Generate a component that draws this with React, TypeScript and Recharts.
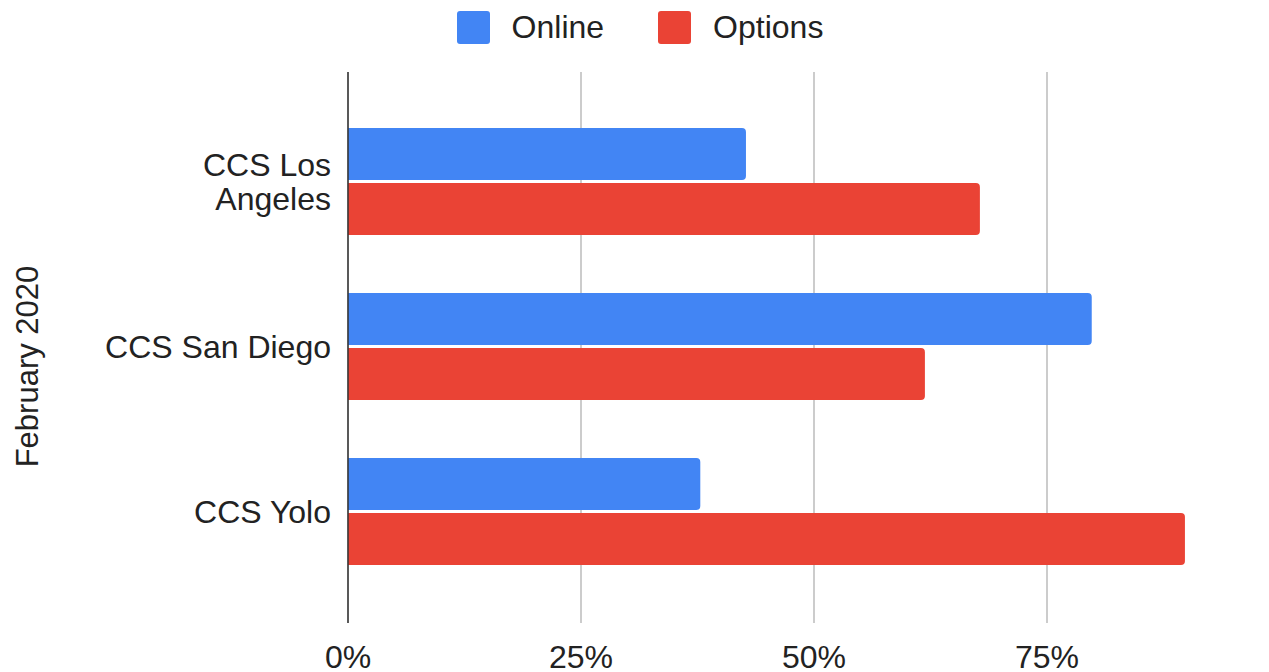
import { Bar, BarChart, CartesianGrid, Legend, XAxis, YAxis } from 'recharts';

// share of each site, February 2020
const categories = ['CCS Los Angeles', 'CCS San Diego', 'CCS Yolo'];
const online = [0.427, 0.798, 0.378];
const options = [0.678, 0.619, 0.898];
const xTicks = [0, 0.25, 0.5, 0.75];

const data = categories.map((name, i) => ({ name, online: online[i], options: options[i] }));

const FONT = '"Liberation Sans", Arial, sans-serif';
const INK = '#222';
const BLUE = '#4285F4';
const RED = '#EA4335';
const TICK_SIZE = 32;
const TICK_WRAP = 240;
const LINE_H = 33.5;

const series = [
  { key: 'online', label: 'Online', color: BLUE },
  { key: 'options', label: 'Options', color: RED },
];

let ctx: CanvasRenderingContext2D | null = null;
function measure(s: string): number {
  if (!ctx) {
    ctx = document.createElement('canvas').getContext('2d');
    if (ctx) ctx.font = `${TICK_SIZE}px ${FONT}`;
  }
  return ctx ? ctx.measureText(s).width : s.length * TICK_SIZE * 0.55;
}

function wrap(label: string): string[] {
  const lines: string[] = [];
  let cur = '';
  label.split(' ').forEach((w) => {
    const next = cur ? `${cur} ${w}` : w;
    if (cur && measure(next) > TICK_WRAP) {
      lines.push(cur);
      cur = w;
    } else {
      cur = next;
    }
  });
  if (cur) lines.push(cur);
  return lines;
}

function LegendBox(): JSX.Element {
  return (
    <div
      style={{
        height: 72,
        boxSizing: 'border-box',
        paddingTop: 11,
        display: 'flex',
        justifyContent: 'center',
        alignItems: 'flex-start',
        fontFamily: FONT,
        fontSize: 32,
        color: INK,
      }}
    >
      {series.map((s, i) => (
        <div key={s.key} style={{ display: 'flex', alignItems: 'center', height: 33, marginLeft: i ? 54 : 0 }}>
          <span style={{ width: 33, height: 33, borderRadius: 3, background: s.color, marginRight: 22 }} />
          <span style={{ lineHeight: '33px' }}>{s.label}</span>
        </div>
      ))}
    </div>
  );
}

function CategoryTick({ x, y, payload }: any): JSX.Element {
  const lines = wrap(String(payload.value));
  // first baseline so the block is centred on the band
  const first = y - ((lines.length - 1) * LINE_H) / 2 + TICK_SIZE * 0.355;
  return (
    <text x={x} y={first} textAnchor="end" fill={INK} fontSize={TICK_SIZE} fontFamily={FONT}>
      {lines.map((line, i) => (
        <tspan key={line} x={x} dy={i === 0 ? 0 : LINE_H}>
          {line}
        </tspan>
      ))}
    </text>
  );
}

function AxisTitle({ viewBox }: any): JSX.Element {
  const cx = viewBox.x + 37.5;
  const cy = viewBox.y + viewBox.height / 2 + 19;
  return (
    <text
      x={cx}
      y={cy}
      transform={`rotate(-90 ${cx} ${cy})`}
      textAnchor="middle"
      fill={INK}
      fontSize={31}
      fontFamily={FONT}
    >
      February 2020
    </text>
  );
}

export default function App(): JSX.Element {
  return (
    <div
      style={{ position: 'absolute', left: 0, top: 0, width: 1269, height: 672, overflow: 'hidden', background: '#fff' }}
    >
      <BarChart
        width={1280}
        height={672}
        data={data}
        layout="vertical"
        margin={{ top: 0, right: 0, bottom: 0, left: 0 }}
        barCategoryGap={29}
        barGap={3}
      >
        <CartesianGrid horizontal={false} stroke="#ccc" strokeWidth={2} />
        <XAxis
          type="number"
          domain={[0, 1]}
          ticks={xTicks}
          interval={0}
          tickFormatter={(v: number) => `${Math.round(v * 100)}%`}
          axisLine={false}
          tickLine={false}
          tickSize={0}
          tickMargin={22}
          height={49}
          tick={{ fill: INK, fontSize: 32, fontFamily: FONT }}
        />
        <YAxis
          type="category"
          dataKey="name"
          width={348}
          axisLine={{ stroke: '#333', strokeWidth: 1.5 }}
          tickLine={false}
          tickSize={0}
          tickMargin={17}
          tick={<CategoryTick />}
          padding={{ top: 27, bottom: 29 }}
          label={<AxisTitle />}
        />
        <Legend verticalAlign="top" content={<LegendBox />} />
        {series.map((s) => (
          <Bar key={s.key} dataKey={s.key} name={s.label} fill={s.color} radius={[0, 4, 4, 0]} isAnimationActive={false} />
        ))}
      </BarChart>
    </div>
  );
}
